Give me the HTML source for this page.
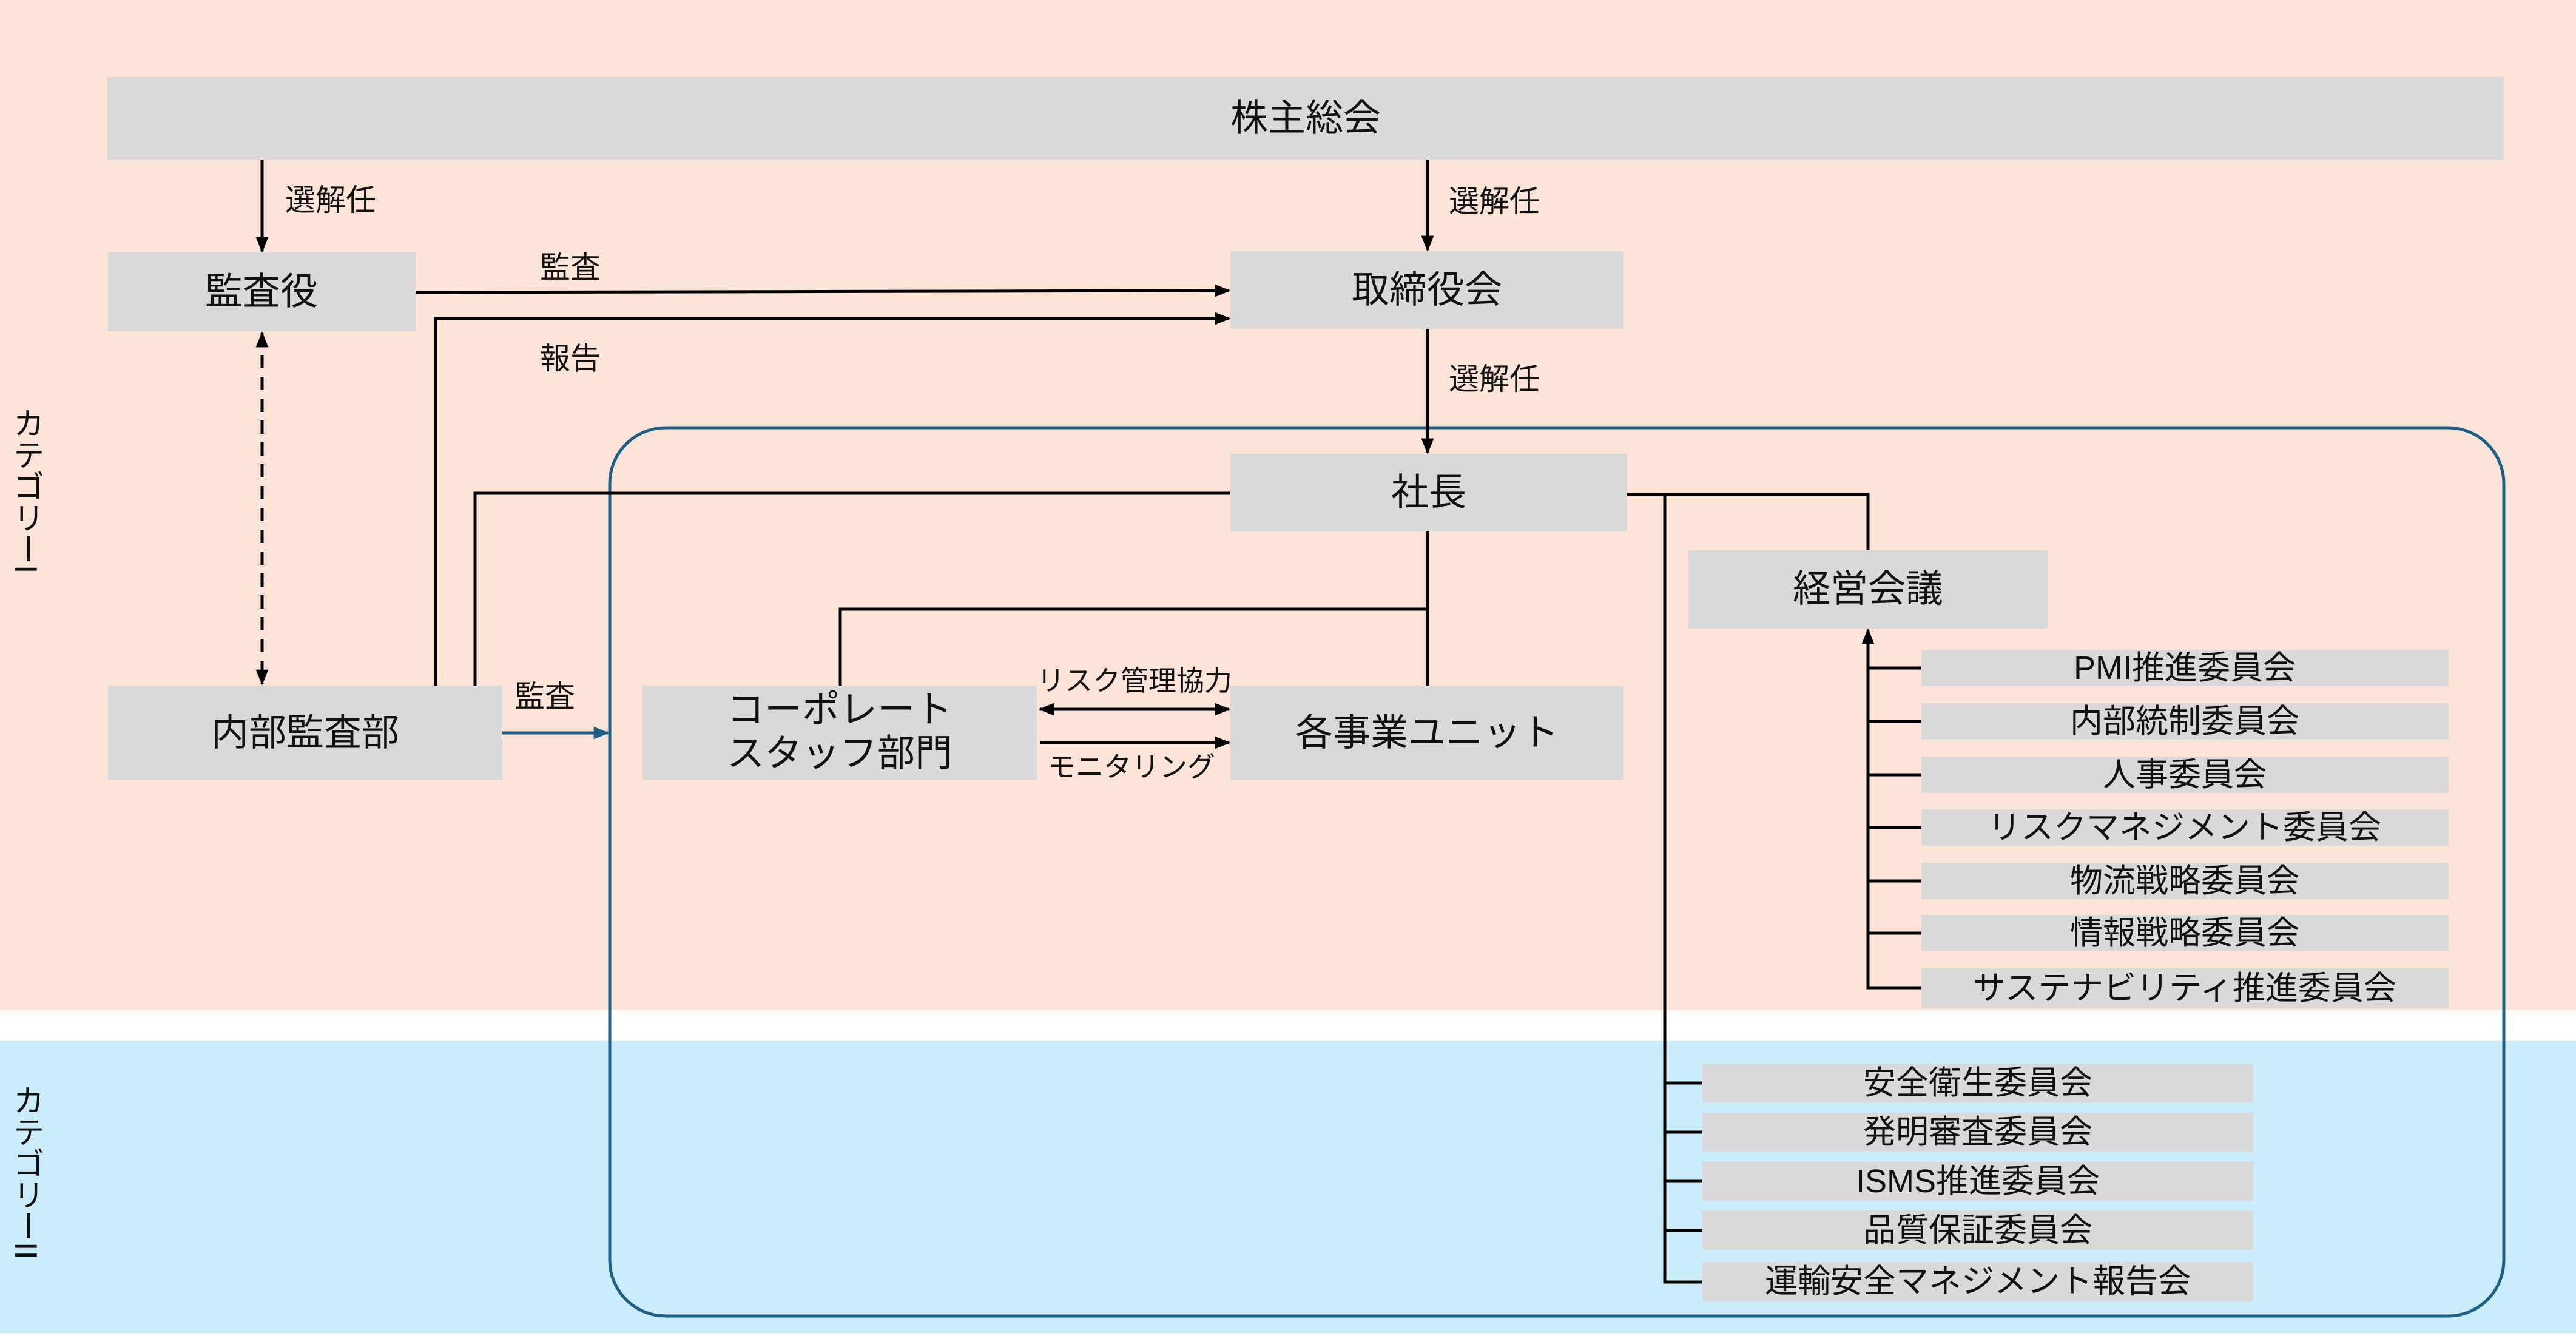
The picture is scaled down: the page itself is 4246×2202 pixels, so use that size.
<!DOCTYPE html>
<html><head><meta charset="utf-8"><style>
html,body{margin:0;padding:0}
body{width:4246px;height:2197px;overflow:hidden;background:#fff}
svg text{font-family:"Liberation Sans","Noto Sans CJK JP",sans-serif;fill:#111}
</style></head><body>
<svg width="4246" height="2197" viewBox="0 0 4246 2197" xmlns="http://www.w3.org/2000/svg">
<defs>
<marker id="ab" viewBox="0 0 10 10" refX="9" refY="5" markerWidth="26" markerHeight="26" orient="auto-start-reverse" markerUnits="userSpaceOnUse"><path d="M0,1 L10,5 L0,9 z" fill="#000"/></marker>
<marker id="ablue" viewBox="0 0 10 10" refX="9" refY="5" markerWidth="26" markerHeight="26" orient="auto" markerUnits="userSpaceOnUse"><path d="M0,1 L10,5 L0,9 z" fill="#1d5f86"/></marker>
</defs>
<rect x="0" y="0" width="4246" height="1665" fill="#fce4d8"/>
<rect x="0" y="1715" width="4246" height="482" fill="#cbecfa"/>

<text transform="translate(42,671)" font-size="52" style="writing-mode:vertical-rl">カテゴリーI</text>
<text transform="translate(42,1787)" font-size="52" style="writing-mode:vertical-rl">カテゴリーII</text>

<g fill="#d9d9d9">
<rect x="177" y="127" width="3950" height="136"/>
<rect x="178" y="416" width="507" height="130"/>
<rect x="2028" y="414" width="648" height="128"/>
<rect x="2028" y="748" width="654" height="128"/>
<rect x="2783" y="907" width="592" height="129"/>
<rect x="178" y="1130" width="650" height="155"/>
<rect x="1059" y="1130" width="650" height="155"/>
<rect x="2028" y="1130" width="648" height="155"/>
<rect x="3167" y="1071" width="869" height="60"/>
<rect x="3167" y="1159" width="869" height="60"/>
<rect x="3167" y="1247" width="869" height="60"/>
<rect x="3167" y="1334" width="869" height="60"/>
<rect x="3167" y="1422" width="869" height="60"/>
<rect x="3167" y="1508" width="869" height="60"/>
<rect x="3167" y="1596" width="869" height="66"/>
<rect x="2806" y="1753" width="908" height="64"/>
<rect x="2806" y="1834" width="908" height="64"/>
<rect x="2806" y="1915" width="908" height="64"/>
<rect x="2806" y="1995" width="908" height="65"/>
<rect x="2806" y="2080" width="908" height="65"/>
</g>

<rect x="1005" y="705" width="3122" height="1464" rx="92" ry="92" fill="none" stroke="#1d5f86" stroke-width="5"/>

<g stroke="#000" stroke-width="5" fill="none">
<line x1="432" y1="263" x2="432" y2="414" marker-end="url(#ab)"/>
<line x1="2353" y1="263" x2="2353" y2="412" marker-end="url(#ab)"/>
<line x1="2353" y1="542" x2="2353" y2="746" marker-end="url(#ab)"/>
<line x1="432" y1="549" x2="432" y2="1127" stroke-dasharray="22,14" marker-start="url(#ab)" marker-end="url(#ab)"/>
<line x1="685" y1="482" x2="2026" y2="479" marker-end="url(#ab)"/>
<polyline points="718,1130 718,525 2026,525" marker-end="url(#ab)"/>
<polyline points="783,1130 783,813 2028,813"/>
<polyline points="1385,1130 1385,1004 2353,1004"/>
<line x1="2353" y1="876" x2="2353" y2="1130"/>
<line x1="1714" y1="1169" x2="2026" y2="1169" marker-start="url(#ab)" marker-end="url(#ab)"/>
<line x1="1714" y1="1224" x2="2026" y2="1224" marker-end="url(#ab)"/>
<polyline points="2682,815 3079,815 3079,907"/>
<polyline points="2744,815 2744,2113 2806,2113"/>
<polyline points="3167,1628 3079,1628 3079,1038" marker-end="url(#ab)"/>
<line x1="3079" y1="1101" x2="3167" y2="1101"/>
<line x1="3079" y1="1189" x2="3167" y2="1189"/>
<line x1="3079" y1="1277" x2="3167" y2="1277"/>
<line x1="3079" y1="1364" x2="3167" y2="1364"/>
<line x1="3079" y1="1452" x2="3167" y2="1452"/>
<line x1="3079" y1="1538" x2="3167" y2="1538"/>
<line x1="2744" y1="1785" x2="2806" y2="1785"/>
<line x1="2744" y1="1866" x2="2806" y2="1866"/>
<line x1="2744" y1="1947" x2="2806" y2="1947"/>
<line x1="2744" y1="2028" x2="2806" y2="2028"/>
</g>
<line x1="828" y1="1208" x2="1002" y2="1208" stroke="#1d5f86" stroke-width="5" marker-end="url(#ablue)"/>

<g font-size="62" text-anchor="middle" dominant-baseline="central">
<text x="2152" y="195">株主総会</text>
<text x="431" y="481">監査役</text>
<text x="2352" y="478">取締役会</text>
<text x="2355" y="812">社長</text>
<text x="3079" y="971">経営会議</text>
<text x="503" y="1208">内部監査部</text>
<text x="1384" y="1170">コーポレート</text>
<text x="1384" y="1242">スタッフ部門</text>
<text x="2352" y="1208">各事業ユニット</text>
</g>
<g font-size="50" dominant-baseline="central">
<text x="470" y="330">選解任</text>
<text x="2388" y="332">選解任</text>
<text x="2388" y="625">選解任</text>
<text x="890" y="441">監査</text>
<text x="890" y="591">報告</text>
<text x="848" y="1148">監査</text>
</g>
<g font-size="46" text-anchor="middle" dominant-baseline="central">
<text x="1870" y="1122">リスク管理協力</text>
<text x="1865" y="1264">モニタリング</text>
</g>
<g font-size="54" text-anchor="middle" dominant-baseline="central">
<text x="3601" y="1101">PMI推進委員会</text>
<text x="3601" y="1189">内部統制委員会</text>
<text x="3601" y="1277">人事委員会</text>
<text x="3601" y="1364">リスクマネジメント委員会</text>
<text x="3601" y="1452">物流戦略委員会</text>
<text x="3601" y="1538">情報戦略委員会</text>
<text x="3601" y="1629">サステナビリティ推進委員会</text>
<text x="3260" y="1785">安全衛生委員会</text>
<text x="3260" y="1866">発明審査委員会</text>
<text x="3260" y="1947">ISMS推進委員会</text>
<text x="3260" y="2028">品質保証委員会</text>
<text x="3260" y="2112">運輸安全マネジメント報告会</text>
</g>
</svg>
</body></html>
